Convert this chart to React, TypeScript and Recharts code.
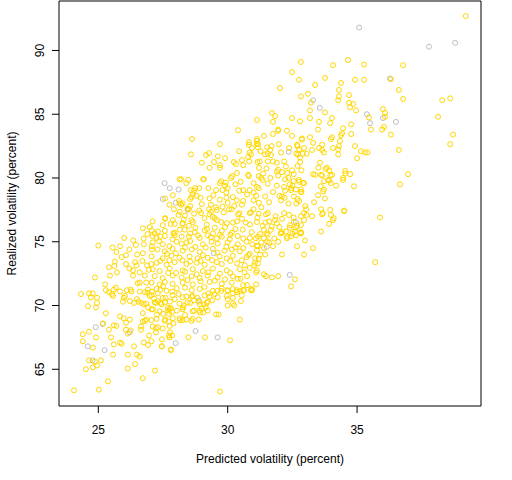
import React from 'react';
import { ScatterChart, Scatter, XAxis, YAxis, ReferenceArea, Label } from 'recharts';

// axis setup (R style: 4% padding around the data)
const xDomain = [23.48, 39.79];
const yDomain = [62.12, 93.88];
const xTicks = [25, 30, 35];
const yTicks = [65, 70, 75, 80, 85, 90];

// points, [predicted, realized]
const upperTail = [
  [39.2,92.7],[32.83,89.1],[32.49,88.3],[34.07,88.85],[34.65,89.25],[35.27,88.9],[36.78,88.85],[32.76,87.7],[33.76,87.85],
  [34.92,87.7],[35.27,87.7],[36.31,87.75],[32.02,87.05],[33.38,87.3],[34.38,87.45],[34.3,86.9],[36.62,86.9],[32.83,86.4],
  [33.1,86.6],[34.3,86.4],[34.69,86.5],[34.27,86.1],[36.78,86.2],[38.29,86.1],[38.6,86.25],[33.22,85.9],[34.69,85.9],
  [34.85,85.8],[34.73,85.55],[34.96,85.3],[33.18,85.3],[31.71,85.1],[31.83,84.85],[31.13,84.55],[32.49,84.7],[32.8,84.45],
  [33.18,84.7],[33.53,84.4],[33.76,85.15],[34.03,84.7],[33.96,84.3],[35.46,84.75],[36.0,85.4],[36.08,85.1],[36.08,84.8],
  [38.13,84.8],[31.75,84.4],[34.77,84.2],[35.54,83.8],[35.97,83.8],[36.04,84.0],[36.31,83.4],[38.71,83.4],[38.6,82.65],
  [36.62,82.2],[36.97,80.3],[36.66,79.5],[35.89,76.9],[34.88,79.35],[34.19,79.4],[35.0,81.55],[34.92,82.5],[35.15,82.1],
  [35.31,82.0],[35.4,82.0],[34.54,80.55],[34.73,80.3],[34.46,80.0],[34.5,77.4],[34.77,83.45],[34.46,83.9],[34.42,83.5],
  [34.34,82.9],[33.99,83.05],[34.27,82.25],[34.27,81.85],[34.07,82.35],[33.72,82.0],[33.53,82.35],[33.65,82.6],[33.49,83.8],
  [33.18,83.2],[32.87,83.1],[32.49,83.3],[32.29,83.7],[31.95,83.8],[31.4,83.3],[31.13,83.05],[31.17,82.65],[31.98,82.65],
  [32.37,82.35],[32.68,82.6],[32.76,82.25],[33.26,82.2],[33.3,82.75],[32.72,81.85],[32.9,81.9],[31.64,82.2],[31.67,81.8],
  [31.44,81.85],[32.06,82.0],[31.75,81.3],[32.18,81.3],[32.8,81.25],[33.57,81.2],[33.84,80.8],[33.61,80.25],[33.3,80.3],
  [33.88,79.85],[34.03,80.25],[33.72,79.75],[32.76,79.7],[32.91,79.6],[32.49,80.6],[32.22,79.9],[31.95,80.2],[31.95,80.65],
  [31.37,80.35],[31.29,80.0],[32.45,79.05],[32.64,79.1],[32.83,79.1],[32.83,78.9],[32.56,78.55],[33.69,78.95],[33.76,78.4],
  [33.49,78.65],[33.34,78.1],[32.76,78.2],[33.03,77.55],[32.95,77.25],[33.26,77.0],[33.61,77.55],[33.65,77.15],[33.96,77.5],
  [33.99,77.1],[34.07,76.7],[33.92,76.4],[33.61,75.8],[32.95,76.7],[32.83,75.7],[32.64,76.1],[32.41,76.3],[32.37,77.1],
  [32.1,76.8],[31.83,76.7],[32.18,77.25],[32.06,78.25],[32.0,78.6],[32.18,79.3],[32.22,79.0],[32.1,75.75],[32.3,75.4],
  [31.48,77.15],[31.55,77.25],[31.45,76.5],[31.2,77.2],
];

const upperCore = [
  [30.4,83.75],[28.62,83.05],[28.58,81.85],[29.7,82.65],[30.24,81.25],[30.44,82.1],[30.82,82.8],[30.94,82.35],[31.13,82.9],
  [29.28,81.95],[29.16,81.8],[29.62,81.7],[29.9,81.55],[29.47,81.25],[29.7,81.0],[29.7,80.8],[29.0,81.2],[29.3,80.8],
  [30.32,81.1],[30.79,81.65],[30.83,81.3],[31.21,80.8],[30.79,80.25],[30.36,80.4],[30.17,80.15],[30.13,80.0],[29.93,79.65],
  [29.75,79.75],[29.08,79.9],[28.74,79.2],[28.9,79.2],[28.58,79.05],[28.65,78.75],[27.88,78.65],[28.2,79.9],[28.47,79.85],
  [28.12,78.2],[28.15,78.0],[28.2,77.9],[28.55,77.8],[28.97,77.25],[29.28,77.55],[29.42,76.95],[29.58,77.5],[30.05,77.55],
  [30.45,77.25],[30.85,77.25],[31.13,79.3],[26.72,76.05],[26.99,76.15],[27.1,75.45],[27.3,75.8],[27.58,76.8],[27.92,77.55],
  [27.75,77.9],[27.58,78.4],[28.15,77.35],[28.3,76.75],[28.45,77.6],[28.35,77.05],[27.8,76.4],[27.4,75.4],[27.9,75.65],
  [28.15,75.95],[28.5,75.4],[30.55,81.4],[30.6,81.0],[31.13,82.65],[30.85,82.0],[31.15,81.25],[28.14,79.9],[28.4,79.6],
  [29.05,79.9],[29.7,79.6],[29.9,79.4],[30.5,79.7],[30.82,80.15],[31.0,79.6],[31.2,80.15],[28.7,79.0],[28.6,78.5],
  [28.55,78.35],[29.55,79.05],[29.8,79.05],[30.0,79.2],[30.2,78.5],[30.3,79.5],[30.6,79.05],[30.85,79.05],[31.0,78.85],
  [31.2,79.2],[28.26,78.0],[28.8,78.6],[29.3,78.4],[29.0,77.95],[29.35,77.9],[29.55,77.7],[29.7,78.3],[30.0,78.05],
  [30.35,78.25],[30.55,77.9],[31.0,78.25],[31.2,78.05],[31.1,78.6],[27.58,76.85],[28.1,77.1],[28.5,77.55],[28.7,77.2],
  [28.9,77.45],[29.1,76.85],[27.95,76.4],[28.26,76.45],[28.6,76.7],[29.3,77.15],[29.5,76.85],[29.85,77.3],[30.15,77.55],
  [30.4,77.15],[30.55,76.8],[30.9,77.3],[31.15,76.9],[31.0,77.55],[30.7,76.5],[30.2,76.5],[29.75,76.55],
];

const rightCore = [
  [31.75,83.45],[31.95,83.7],[32.87,83.0],[34.03,83.2],[34.38,83.35],[30.82,82.6],[31.17,82.4],[31.52,82.4],[31.7,82.5],
  [32.7,82.5],[32.95,82.35],[33.05,81.9],[33.65,82.2],[34.3,82.5],[30.9,81.85],[31.27,82.1],[31.55,81.9],[31.24,81.3],
  [31.55,81.3],[31.9,81.2],[32.8,81.6],[32.65,81.9],[33.92,80.6],[33.5,80.8],[33.78,80.7],[33.38,80.25],[33.65,80.2],
  [33.97,80.2],[34.55,80.35],[34.46,79.85],[33.92,79.8],[33.98,79.6],[33.6,79.35],[33.72,79.1],[33.0,77.8],[33.05,77.1],
  [33.68,77.25],[34.1,76.85],[34.5,77.45],[32.99,75.1],[32.68,74.65],[33.3,74.5],[32.95,74.0],[32.1,74.0],[32.83,75.65],
  [32.6,75.8],[32.5,75.65],[32.4,76.1],[32.25,75.8],[32.05,75.65],[31.95,75.0],[31.6,74.95],[31.5,75.65],[31.2,73.65],
  [31.45,74.0],[32.83,76.3],[32.68,76.25],[32.55,76.55],[32.83,77.0],[32.55,76.9],[31.9,76.45],[32.0,76.15],[32.65,78.0],
  [32.7,78.35],[32.35,78.0],[32.2,78.45],[32.1,78.55],[32.4,79.5],[32.45,79.2],[32.5,79.4],[32.3,80.4],[32.35,80.0],
  [32.25,80.9],[32.1,80.45],[32.55,80.3],[32.85,80.6],[32.7,80.95],[32.75,79.85],[32.55,79.75],[32.95,79.6],[32.85,78.9],
  [31.4,75.93],[31.67,75.93],[32.06,75.67],[32.29,75.27],[32.45,75.43],[32.64,75.5],[32.83,75.75],[31.75,74.65],[31.4,74.5],
  [31.17,74.65],[31.09,75.27],[31.4,75.27],[31.52,75.03],[31.25,74.0],[31.06,73.7],[31.02,73.15],[31.13,72.75],[31.4,72.45],
  [31.48,72.3],[31.71,72.2],[31.95,72.3],[32.6,72.05],[32.45,71.5],[35.7,73.4],[30.9,71.2],
];

const centerCore = [
  [27.1,76.6],[27.49,76.3],[27.88,76.7],[28.26,76.4],[28.65,76.55],[29.19,76.35],[29.58,76.7],[29.97,76.45],[30.36,76.6],
  [30.86,76.35],[31.13,76.55],[27.06,75.9],[27.18,75.65],[27.57,75.85],[27.95,75.7],[28.34,75.95],[28.73,75.75],[29.11,75.9],
  [29.43,75.65],[29.77,75.85],[30.16,75.7],[30.58,75.95],[30.93,75.75],[27.25,75.3],[27.57,75.45],[27.87,75.2],[28.22,75.4],
  [28.92,75.3],[29.23,75.5],[29.58,75.25],[29.77,75.4],[30.08,75.2],[30.39,75.45],[30.86,75.3],[31.17,75.4],[27.1,74.95],
  [27.49,74.8],[28.03,75.0],[28.22,74.85],[28.41,74.95],[29.04,74.8],[29.38,75.0],[29.61,74.85],[30.0,74.95],[30.39,74.8],
  [30.73,75.0],[27.29,74.4],[27.57,74.25],[27.87,74.45],[28.26,74.3],[28.61,74.4],[28.92,74.2],[29.43,74.45],[29.88,74.3],
  [30.16,74.4],[30.47,74.25],[31.13,74.35],[27.06,73.85],[27.49,73.7],[27.83,73.9],[28.14,73.75],[28.53,73.85],[28.84,73.7],
  [29.04,73.95],[29.23,73.75],[29.69,73.85],[29.96,73.7],[30.2,73.9],[30.73,73.8],[27.25,73.35],[27.64,73.2],[27.95,73.4],
  [28.41,73.25],[28.8,73.35],[29.11,73.2],[29.58,73.4],[29.77,73.25],[30.36,73.3],[30.66,73.15],[31.05,73.35],[27.1,72.85],
  [27.37,72.7],[27.76,72.9],[28.26,72.75],[28.65,72.85],[29.04,72.7],[29.43,72.9],[29.96,72.75],[30.47,72.85],[27.18,72.3],
  [27.49,72.15],[27.87,72.35],[28.22,72.2],[28.61,72.3],[28.92,72.15],[29.23,72.35],[29.61,72.2],[30.2,72.3],[30.39,72.1],
  [27.06,71.8],[27.37,71.65],[27.57,71.85],[27.87,71.7],[28.26,71.8],[28.65,71.65],[29.3,71.85],[29.77,71.7],[30.16,71.8],
  [27.25,71.3],[27.64,71.15],[28.03,71.35],[28.61,71.2],[28.92,71.3],[29.43,71.15],[29.77,71.35],[30.0,71.2],[30.2,71.3],
  [30.47,71.15],[30.93,71.3],[26.98,70.75],[27.49,70.6],[27.87,70.8],[28.26,70.65],[28.65,70.75],[28.84,70.6],[29.11,70.8],
  [29.61,70.65],[29.96,70.75],[30.2,70.6],[30.54,70.8],[27.18,70.25],[27.45,70.1],[27.76,70.3],[28.14,70.15],[28.45,70.25],
  [28.92,70.1],[29.23,70.3],[30.2,70.15],[27.06,69.7],[27.37,69.55],[27.76,69.75],[28.03,69.6],[28.26,69.7],[28.65,69.55],
  [29.0,69.75],[29.23,69.6],[27.25,68.95],[27.57,68.8],[28.14,69.0],[28.26,68.85],[28.65,68.95],[27.1,68.35],[27.49,68.2],
  [27.76,68.4],
  [29.2,76.0],[29.5,76.1],[29.9,76.15],[30.3,76.0],[29.7,75.55],[30.1,75.55],[29.35,77.35],[29.8,77.75],[30.25,77.8],
  [30.6,78.2],[29.95,78.45],[29.45,78.65],[30.75,78.7],[30.45,79.0],[29.25,79.2],[29.95,78.85],[28.95,78.45],[28.75,76.1],
  [28.5,76.25],[28.85,75.5],[28.55,75.05],[28.75,74.6],[29.15,74.55],[29.6,74.15],[29.95,74.6],[30.3,74.55],[30.6,74.5],
  [30.8,73.95],[30.55,73.55],[30.1,73.5],[29.4,73.55],[28.95,73.5],[28.55,73.45],[28.25,73.55],[27.75,73.55],[27.4,73.5],
  [27.65,74.05],[28.0,74.1],[28.35,74.55],[27.75,74.65],[27.35,75.05],[27.95,75.5],[28.55,75.65],[29.35,75.35],[30.6,75.25],
  [30.95,74.8],[31.3,74.95],[31.25,75.6],[31.55,75.55],[31.8,75.25],[31.7,76.2],[31.35,76.25],[31.6,76.6],[31.85,77.0],
  [31.3,77.7],[31.6,78.1],[31.45,78.55],[31.75,78.9],[31.9,79.4],[31.55,79.55],[31.35,79.85],[31.65,80.0],[31.9,80.5],
  [31.5,80.75],[28.35,72.65],[28.8,72.45],[29.25,72.6],[29.7,72.5],[30.1,72.55],[30.65,72.6],[29.9,72.05],[29.5,71.95],
  [28.95,71.9],[28.45,72.0],[27.7,72.55],[28.0,72.55],[29.1,71.45],[28.35,71.4],[27.85,71.1],[27.5,71.5],[29.25,70.95],
  [28.1,70.9],[28.55,70.2],[27.95,70.5],[27.3,70.35],[29.4,70.4],
];

const lowerCenter = [
  [28.89,68.9],[28.48,67.5],[29.12,67.5],[29.7,63.25],[30.09,67.27],[30.47,68.9],[29.55,69.3],[29.65,69.3],[28.93,69.45],
  [29.05,69.45],[29.1,70.1],[28.9,70.3],[28.7,70.4],[28.6,70.7],[28.4,70.7],[28.3,70.0],[28.35,69.25],[28.4,68.9],
  [28.6,68.8],[28.7,69.6],[28.9,69.6],[29.15,69.85],[29.2,70.2],[29.3,70.7],[29.5,70.9],[29.6,71.15],[29.75,71.15],
  [30.0,71.15],[30.0,70.5],[30.0,70.0],[30.2,70.95],[30.25,70.0],[30.35,71.2],[30.6,71.2],[30.5,72.1],[30.6,71.6],
  [30.75,71.6],[30.75,72.3],[30.85,72.95],[30.85,74.05],[31.13,74.7],[31.17,73.3],[31.1,72.6],[31.1,71.65],[30.94,71.2],
  [30.63,71.2],[30.36,71.05],[30.51,70.35],
];

const lowerLeft = [
  [27.19,64.9],[26.72,64.3],[27.77,67.9],[27.46,67.35],[27.75,67.5],[27.8,66.5],[27.45,66.8],[27.3,68.3],[27.05,67.2],
  [27.05,68.85],[26.8,68.8],[27.7,69.6],[27.8,69.8],[27.85,69.5],[28.16,68.85],[27.9,68.6],[25.0,74.7],[25.84,74.65],
  [26.76,74.8],[27.07,74.65],[26.9,75.6],[24.06,63.35],[25.02,63.4],[25.37,64.05],[26.14,65.05],[26.42,65.4],[24.52,65.0],
  [24.79,65.15],[24.64,65.7],[24.87,65.6],[25.1,65.7],[24.95,65.3],[25.57,66.15],[26.14,66.15],[26.49,66.15],[26.6,66.0],
  [24.79,66.7],[24.4,67.2],[24.4,67.75],[24.64,67.95],[24.91,67.5],[25.49,67.5],[25.41,68.1],[25.18,68.6],[25.29,69.4],
  [25.6,68.45],[25.7,68.4],[25.84,67.1],[25.9,67.0],[25.6,66.95],[26.38,66.8],[26.92,66.9],[26.76,67.1],[27.46,66.8],
  [27.81,66.55],[27.73,67.65],[27.85,67.65],[27.23,67.9],[27.23,68.2],[26.96,67.65],[26.65,68.1],[26.65,68.35],[26.14,67.8],
  [26.07,68.1],[26.25,68.05],[26.22,68.9],[26.07,68.65],[25.84,69.15],[25.98,69.0],[26.72,68.75],[26.85,68.9],[26.72,69.4],
  [26.92,69.85],[26.76,70.1],[26.86,70.15],[27.11,69.7],[27.27,69.3],[27.5,69.35],[27.58,68.9],[27.73,68.75],[27.88,69.0],
  [27.73,69.35],[28.27,69.85],[24.6,69.95],[24.33,70.9],[24.64,70.95],[24.78,70.95],[24.71,70.65],[24.95,70.6],[24.95,70.2],
  [24.91,69.85],[24.87,72.2],[25.29,71.2],[25.41,71.05],[25.26,71.65],[25.6,71.25],[25.68,71.4],[25.53,70.9],[25.57,70.75],
  [25.84,71.1],[25.99,70.6],[25.95,70.3],[26.03,70.75],[26.1,71.2],[26.25,71.25],[26.28,71.1],[26.22,70.35],[26.38,70.2],
  [26.49,70.5],[26.55,70.3],[26.66,70.2],[26.6,71.1],[26.8,71.05],[26.92,71.25],[26.9,71.0],[27.07,71.1],[27.05,70.8],
  [27.15,70.55],[27.23,70.2],[27.3,70.95],[27.4,71.25],[27.58,70.25],[27.6,70.6],[27.4,70.2],[27.69,69.8],[25.45,72.35],
  [25.72,72.6],[25.41,73.0],[25.64,73.45],[25.62,73.1],[26.07,73.95],[26.07,73.25],[26.42,73.4],[26.48,73.15],[26.34,72.75],
  [26.34,72.35],[26.6,71.8],[26.52,71.75],[26.85,71.8],[26.88,73.15],[27.05,73.25],[26.72,74.1],[27.07,74.4],[26.6,72.6],
  [26.8,72.35],[26.95,72.8],[26.7,73.5],[26.5,74.0],[26.2,74.4],[26.45,74.75],[26.75,75.25],[26.35,75.1],[26.0,75.3],
  [25.7,74.2],[25.9,73.8],[26.2,72.9],[25.55,74.55],
];

const grayPoints = [
  [35.08,91.8],[37.78,90.3],[38.79,90.6],[33.3,86.1],[33.56,85.5],[36.27,87.8],[35.38,85.0],[36.0,84.7],[36.5,84.4],
  [35.5,84.3],[32.36,82.05],[27.56,79.6],[27.76,79.2],[27.49,78.35],[27.99,78.05],[28.1,79.1],[28.45,77.5],[24.9,68.3],
  [25.17,68.55],[24.59,66.8],[24.78,65.7],[25.24,66.5],[26.21,67.9],[27.99,67.05],[28.76,68.0],[29.61,67.5],[32.63,76.55],
  [32.4,72.4],[31.51,74.6],[28.88,70.4],[29.46,74.1],
];

const toRows = (pts: number[][]) => pts.map(([x, y]) => ({ x, y }));
const goldData = toRows([...upperTail, ...upperCore, ...rightCore, ...centerCore, ...lowerCenter, ...lowerLeft]);
const grayData = toRows(grayPoints);

const font = 'Liberation Sans, Arial, sans-serif';

const ring = (color: string) => (props: any) =>
  <circle cx={props.cx} cy={props.cy} r={2.5} fill="none" stroke={color} strokeWidth={1} />;

const XTick = (props: any) => (
  <text x={props.x} y={434} textAnchor="middle" fontSize={12} fontFamily={font} fill="#000">
    {props.payload.value}
  </text>
);

const YTick = (props: any) => (
  <text x={44} y={props.y} transform={`rotate(-90, 44, ${props.y})`} textAnchor="middle" fontSize={12} fontFamily={font} fill="#000">
    {props.payload.value}
  </text>
);

const App: React.FC = () => {
  return (
    <div style={{ position: 'absolute', left: 0, top: 0 }}>
      <ScatterChart width={512} height={480} margin={{ top: 1, right: 31, left: 0, bottom: 0 }}>
        <XAxis type="number" dataKey="x" domain={xDomain} ticks={xTicks} axisLine={false}
          tickSize={7} tickLine={{ stroke: '#000' }} tick={<XTick />} height={74} allowDataOverflow>
          <Label content={(p: any) => (
            <text x={p.viewBox.x + p.viewBox.width / 2} y={463} textAnchor="middle" fontSize={12} fontFamily={font} fill="#000">
              Predicted volatility (percent)
            </text>
          )} />
        </XAxis>
        <YAxis type="number" dataKey="y" domain={yDomain} ticks={yTicks} axisLine={false}
          tickSize={7} tickLine={{ stroke: '#000' }} tick={<YTick />} width={59} allowDataOverflow>
          <Label content={(p: any) => {
            const cy = p.viewBox.y + p.viewBox.height / 2;
            return (
              <text x={16} y={cy} transform={`rotate(-90, 16, ${cy})`} textAnchor="middle" fontSize={12} fontFamily={font} fill="#000">
                Realized volatility (percent)
              </text>
            );
          }} />
        </YAxis>
        <ReferenceArea x1={xDomain[0]} x2={xDomain[1]} y1={yDomain[0]} y2={yDomain[1]} fill="none" stroke="#000" strokeWidth={1} />
        <Scatter data={grayData} shape={ring('#BEBEBE')} isAnimationActive={false} />
        <Scatter data={goldData} shape={ring('#FFD700')} isAnimationActive={false} />
      </ScatterChart>
    </div>
  );
};

export default App;
